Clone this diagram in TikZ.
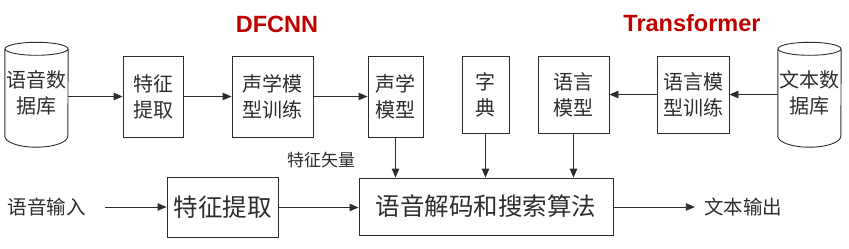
\documentclass[tikz,border=0pt]{standalone}
\usepackage{fontspec}
\newfontfamily\cjk{Noto Sans CJK SC}
\setsansfont{Liberation Sans}
\usetikzlibrary{arrows.meta}
\definecolor{asrink}{RGB}{45,45,45}
\definecolor{asrred}{RGB}{192,0,0}
\tikzset{
  blk/.style={
    draw=asrink, line width=0.9pt, align=center, inner sep=0pt,
    text=asrink, font=\cjk\fontsize{20}{26}\selectfont
  },
  bigblk/.style={blk, font=\cjk\fontsize{24.5}{30}\selectfont},
  dbase/.style={
    align=center, inner sep=0pt, minimum width=63pt, minimum height=87pt,
    text=asrink, font=\cjk\fontsize{20}{26}\selectfont
  },
  dbline/.style={draw=asrink, line width=0.9pt},
  arr/.style={-{Triangle[length=9pt,width=7.5pt]}, draw=asrink, line width=0.9pt},
  anno/.style={text=asrink, inner sep=0pt, font=\cjk\fontsize{19.5}{24}\selectfont},
  subanno/.style={anno, font=\cjk\fontsize{17}{20}\selectfont},
  model/.style={text=asrred, inner sep=0pt, font=\sffamily\bfseries\fontsize{23.5}{28}\selectfont}
}
\begin{document}
\begin{tikzpicture}[x=1pt, y=-1pt]
  \useasboundingbox (0,0) rectangle (849,249);
  % training row
  \node[dbase] (db1) at (36.5,92.5) {语音数\\据库};
  \node[blk, minimum width=60pt, minimum height=81pt] (fe1) at (153,96.5) {特征\\提取};
  \node[blk, minimum width=81pt, minimum height=81pt] (amt) at (272.5,96.5) {声学模\\型训练};
  \node[blk, minimum width=55pt, minimum height=81pt] (am) at (395.5,96.5) {声学\\模型};
  \node[blk, minimum width=47pt, minimum height=77pt] (dict) at (485.5,94.5) {字\\典};
  \node[blk, minimum width=71pt, minimum height=77pt] (lm) at (573.5,94.5) {语言\\模型};
  \node[blk, minimum width=72pt, minimum height=77pt] (lmt) at (693,94.5) {语言模\\型训练};
  \node[dbase] (db2) at (809.5,92.5) {文本数\\据库};
  \foreach \d in {db1,db2}
    \draw[dbline] (\d.north west) -- (\d.south west)
      arc[start angle=180, end angle=360, x radius=31.5pt, y radius=11pt]
      -- (\d.north east) (\d.north) ellipse[x radius=31.5pt, y radius=6.5pt];
  \node[model] (cnn) at (277,24) {DFCNN};
  \node[model] (trf) at (692,23) {Transformer};
  % recognition row
  \node[anno] (in) at (47,207) {语音输入};
  \node[bigblk, minimum width=111pt, minimum height=60pt] (fe2) at (222.5,207.5) {特征提取};
  \node[bigblk, minimum width=254pt, minimum height=57pt] (dec) at (486,206.5) {语音解码和搜索算法};
  \node[anno] (out) at (743,207) {文本输出};
  \node[subanno] (vec) at (321,160) {特征矢量};
  % connectors
  \draw[arr] (db1.east |- fe1) -- (fe1);
  \draw[arr] (fe1) -- (amt);
  \draw[arr] (amt) -- (am);
  \draw[arr] (db2.west |- lmt) -- (lmt);
  \draw[arr] (lmt) -- (lm);
  \foreach \m in {am,dict,lm}
    \draw[arr] (\m) -- (\m |- dec.north);
  \draw[arr, shorten <=19pt] (in) -- (in -| fe2.west);
  \draw[arr] (fe2) -- (fe2 -| dec.west);
  \draw[arr, shorten >=9pt] (dec.east |- out) -- (out);
\end{tikzpicture}
\end{document}
